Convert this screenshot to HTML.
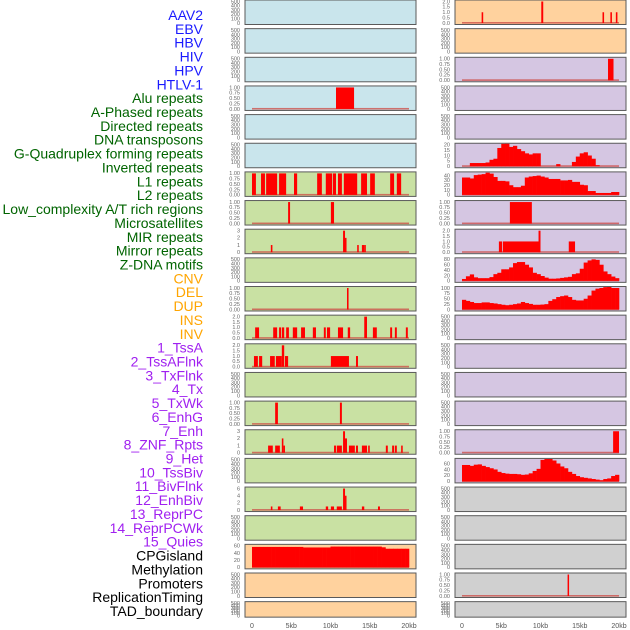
<!DOCTYPE html>
<html><head><meta charset="utf-8"><style>
html,body{margin:0;padding:0;background:#fff;}
svg{display:block;font-family:"Liberation Sans",sans-serif;}
</style></head><body>
<svg id="chart" width="630" height="630" viewBox="0 0 630 630" xmlns="http://www.w3.org/2000/svg"></svg>
<script>
const trackLabels = ["AAV2","EBV","HBV","HIV","HPV","HTLV-1","Alu repeats","A-Phased repeats","Directed repeats","DNA transposons","G-Quadruplex forming repeats","Inverted repeats","L1 repeats","L2 repeats","Low_complexity A/T rich regions","Microsatellites","MIR repeats","Mirror repeats","Z-DNA motifs","CNV","DEL","DUP","INS","INV","1_TssA","2_TssAFlnk","3_TxFlnk","4_Tx","5_TxWk","6_EnhG","7_Enh","8_ZNF_Rpts","9_Het","10_TssBiv","11_BivFlnk","12_EnhBiv","13_ReprPC","14_ReprPCWk","15_Quies","CPGisland","Methylation","Promoters","ReplicationTiming","TAD_boundary"];
const xTickValues = [0,5,10,15,20];
const xTickLabels = ["0","5kb","10kb","15kb","20kb"];
const ticksEmpty = ["0","100","200","300","400","500"];
const ticksFrac = ["0.00","0.25","0.50","0.75","1.00"];
const ticksTwo = ["0.0","0.5","1.0","1.5","2.0"];
const ticksThree = ["0","1","2","3"];
const ticksSix = ["0","2","4","6"];
const ticksSixty = ["0","20","40","60"];
const ticksTwenty = ["0","5","10","15","20"];
const ticksForty = ["0","10","20","30","40"];
const ticksEighty = ["0","20","40","60","80"];
const ticksHundred = ["0","25","50","75","100"];

// bar data: [startKb, endKb, value]
const hivBars = [[10.7,13.0,1]];
const aluBars = [[0,0.5,1],[1.15,1.65,1],[1.8,3.2,1],[3.45,4.35,1],[5.35,5.75,1],[8.3,8.9,1],[9.4,10.2,1],[10.3,10.7,1],[10.95,11.45,1],[11.7,13.4,1],[13.9,14.65,1],[15.05,15.65,1],[17.6,18.1,1],[18.45,19.0,1]];
const aPhasedBars = [[4.6,4.85,1],[10.05,10.45,1]];
const directedBars = [[2.4,2.6,1],[11.6,11.85,3],[11.85,12.0,2],[13.4,13.6,1],[14.0,14.3,1],[14.3,14.5,1]];
const gQuadBars = [[12.1,12.3,1]];
const invertedBars = [[0.4,0.9,1],[2.7,3.2,1],[3.45,3.7,1],[3.8,4.1,1],[4.35,4.7,1],[5.2,5.75,1],[6.25,6.75,1],[7.75,8.15,1],[9.15,9.4,1],[9.55,9.95,1],[10.95,11.6,1],[12.2,12.5,1],[14.3,14.65,2],[15.4,15.9,1],[17.6,17.85,1],[18.2,18.45,1],[19.6,19.85,1]];
const l1Bars = [[0.25,0.75,1],[0.9,1.3,1],[2.3,2.9,1],[3.05,3.8,1],[3.8,4.1,2],[4.2,4.6,1],[10.05,12.35,1],[13.25,13.5,1]];
const lowComplexityBars = [[2.95,3.3,1],[11.2,11.45,1]];
const microsatBars = [[2.05,2.65,1],[2.95,3.55,1],[3.8,4.0,2],[4.0,4.2,1],[10.45,10.7,1],[10.8,11.45,1],[11.6,11.85,3],[11.85,12.1,2],[12.35,13.1,1],[13.25,13.5,1],[14.0,14.65,1],[14.8,15.0,1],[17.05,17.3,1],[17.85,18.1,1],[18.2,18.45,1],[19.0,19.2,1]];
const mirrorBars = [[2.4,2.6,1],[3.3,3.65,1],[6.1,6.5,1],[9.4,9.7,1],[10.05,10.45,1],[10.8,11.45,1],[11.6,11.85,6],[11.85,12.0,4],[14.0,14.3,1],[16.05,16.3,1]];
const insBars = [[2.5,2.7,1],[10.1,10.35,2],[17.9,18.1,1],[18.9,19.1,1],[19.6,19.8,1]];
const tssABars = [[18.6,19.3,1]];
const enhGBars = [[6.1,8.9,1]];
const enhBars = [[4.7,5.1,1],[5.2,9.9,1],[9.75,10.0,2],[13.6,14.4,1]];
const reprPCWkBars = [[19.25,20,1]];
const replicationBars = [[13.45,13.6,1]];

// profile data: values in 0.5kb bins from 0 to 20kb
const cnvProfile = [57,57,57,57,57,57,57,57,57,57,57,57,57,55.5,55.5,55.5,55.5,55.5,55.5,55.5,58,58,58,58,58,58,58,58,58,58,58,58,58,56,52,52,52,52,52,52];
const txProfile = [0,0,3,3,3,3,3.5,6,7,17,21,22,18,19,16,14,12,11,12,12,0,0,0,0,2,0,0,0,4,9,12,13,10,7,1,0,0,0,0,0];
const txWkProfile = [36,36,34,41,42,43,46,44,37,29,29,28,20,16,16,19,36,38,39,40,38,36,33,33,33,30,30,31,27,27,21,20,8,8,4,4,4,4,6,6];
const znfProfile = [7,17,24,13,10,10,10,14,25,30,43,43,50,66,70,70,60,50,30,25,18,12,8,8,9,11,13,15,25,28,45,68,76,80,78,60,35,25,16,10];
const hetProfile = [45,40,35,30,30,33,33,30,28,25,22,20,22,25,28,35,30,26,22,22,23,25,40,48,58,62,65,58,45,42,42,50,65,88,97,100,104,106,100,100];
const quiesProfile = [55,55,52,56,57,52,48,44,40,32,28,26,25,25,24,22,23,27,35,42,72,75,75,70,60,50,44,32,25,18,14,12,10,8,6,4,8,10,18,22];

const C_BLUE="#c9e5ec", C_GREEN="#c9e1a3", C_ORANGE="#ffd29e", C_LAV="#d5c6e2", C_GRAY="#d0d0d0";
const panels = [
 {c:0,r:0,f:C_BLUE,t:ticksEmpty,d:500},{c:0,r:1,f:C_BLUE,t:ticksEmpty,d:500},{c:0,r:2,f:C_BLUE,t:ticksEmpty,d:500},
 {c:0,r:3,f:C_BLUE,t:ticksFrac,d:1,bars:hivBars},{c:0,r:4,f:C_BLUE,t:ticksEmpty,d:500},{c:0,r:5,f:C_BLUE,t:ticksEmpty,d:500},
 {c:0,r:6,f:C_GREEN,t:ticksFrac,d:1,bars:aluBars},{c:0,r:7,f:C_GREEN,t:ticksFrac,d:1,bars:aPhasedBars},
 {c:0,r:8,f:C_GREEN,t:ticksThree,d:3,bars:directedBars},{c:0,r:9,f:C_GREEN,t:ticksEmpty,d:500},
 {c:0,r:10,f:C_GREEN,t:ticksFrac,d:1,bars:gQuadBars},{c:0,r:11,f:C_GREEN,t:ticksTwo,d:2,bars:invertedBars},
 {c:0,r:12,f:C_GREEN,t:ticksTwo,d:2,bars:l1Bars},{c:0,r:13,f:C_GREEN,t:ticksEmpty,d:500},
 {c:0,r:14,f:C_GREEN,t:ticksFrac,d:1,bars:lowComplexityBars},{c:0,r:15,f:C_GREEN,t:ticksThree,d:3,bars:microsatBars},
 {c:0,r:16,f:C_GREEN,t:ticksEmpty,d:500},{c:0,r:17,f:C_GREEN,t:ticksSix,d:6,bars:mirrorBars},
 {c:0,r:18,f:C_GREEN,t:ticksEmpty,d:500},{c:0,r:19,f:C_ORANGE,t:ticksSixty,d:60,prof:cnvProfile},
 {c:0,r:20,f:C_ORANGE,t:ticksEmpty,d:500},{c:0,r:21,f:C_ORANGE,t:ticksEmpty,d:500},
 {c:1,r:0,f:C_ORANGE,t:ticksTwo,d:2,bars:insBars},{c:1,r:1,f:C_ORANGE,t:ticksEmpty,d:500},
 {c:1,r:2,f:C_LAV,t:ticksFrac,d:1,bars:tssABars},{c:1,r:3,f:C_LAV,t:ticksEmpty,d:500},{c:1,r:4,f:C_LAV,t:ticksEmpty,d:500},
 {c:1,r:5,f:C_LAV,t:ticksTwenty,d:20,prof:txProfile},{c:1,r:6,f:C_LAV,t:ticksForty,d:44.5,prof:txWkProfile},
 {c:1,r:7,f:C_LAV,t:ticksFrac,d:1,bars:enhGBars},{c:1,r:8,f:C_LAV,t:ticksTwo,d:2,bars:enhBars},
 {c:1,r:9,f:C_LAV,t:ticksEighty,d:80,prof:znfProfile},{c:1,r:10,f:C_LAV,t:ticksHundred,d:100,prof:hetProfile},
 {c:1,r:11,f:C_LAV,t:ticksEmpty,d:500},{c:1,r:12,f:C_LAV,t:ticksEmpty,d:500},{c:1,r:13,f:C_LAV,t:ticksEmpty,d:500},
 {c:1,r:14,f:C_LAV,t:ticksEmpty,d:500},{c:1,r:15,f:C_LAV,t:ticksFrac,d:1,bars:reprPCWkBars},
 {c:1,r:16,f:C_LAV,t:ticksSixty,d:72,prof:quiesProfile},{c:1,r:17,f:C_GRAY,t:ticksEmpty,d:500},
 {c:1,r:18,f:C_GRAY,t:ticksEmpty,d:500},{c:1,r:19,f:C_GRAY,t:ticksEmpty,d:500},
 {c:1,r:20,f:C_GRAY,t:ticksFrac,d:1,bars:replicationBars},{c:1,r:21,f:C_GRAY,t:ticksEmpty,d:500}
];
const labelColor = i => i<6?"#1a1aff":i<19?"#006400":i<24?"#ffa500":i<39?"#a020f0":"#000";

const svg = document.getElementById('chart');
const NS = "http://www.w3.org/2000/svg";
function mk(tag, attrs, parent){const e=document.createElementNS(NS,tag);for(const k in attrs)e.setAttribute(k,attrs[k]);(parent||svg).appendChild(e);return e;}

trackLabels.forEach((s,i)=>{
  const t=mk('text',{x:203,y:(15+i*13.86+5).toFixed(1),'text-anchor':'end','font-size':'14',fill:labelColor(i)});
  
  
  t.textContent=s;
});

const colX=[245,455], panelW=171, pitch=28.65;
function xScale(c,kb){return colX[c]+7+kb*7.85;}

panels.forEach(p=>{
  const top=p.r*pitch, h=p.r===21?15.5:24.5;
  const y0=top+h-1.5, yTop=top+1.5;
  const yS=v=>y0-(v/p.d)*(y0-yTop);
  const g=mk('g',{});
  
  
  const bg=mk('rect',{x:colX[p.c],y:top.toFixed(2),width:panelW,height:h,fill:p.f,stroke:'#5a5a5a','stroke-width':1},g);
  
  
  const cp=mk('clipPath',{id:'cp'+p.c+'_'+p.r},g);
  mk('rect',{x:colX[p.c]+0.5,y:top+0.5,width:panelW-1,height:h-1},cp);
  const dg=mk('g',{'clip-path':'url(#cp'+p.c+'_'+p.r+')'},g);
  if(p.bars||p.prof){
    const bl=mk('rect',{x:xScale(p.c,0),y:(y0-1).toFixed(2),width:(xScale(p.c,20)-xScale(p.c,0)).toFixed(2),height:1.6,fill:'#cc4a44',opacity:0.75},dg);
    
    
  }
  if(p.bars){
    p.bars.forEach(b=>{
      const x1=xScale(p.c,b[0]), x2=xScale(p.c,b[1]);
      const r=mk('rect',{x:x1.toFixed(2),y:yS(b[2]).toFixed(2),width:Math.max(1.5,x2-x1).toFixed(2),height:(y0-yS(b[2])).toFixed(2),fill:'#ff0000'},dg);
      
      
    });
  }
  if(p.prof){
    p.prof.forEach((v,i)=>{
      if(v<=0)return;
      const x1=xScale(p.c,i*0.5), x2=xScale(p.c,(i+1)*0.5);
      const r=mk('rect',{x:x1.toFixed(2),y:yS(v).toFixed(2),width:(x2-x1+0.3).toFixed(2),height:(y0-yS(v)).toFixed(2),fill:'#ff0000'},dg);
      
      
    });
  }
  p.t.forEach(lbl=>{
    const v=parseFloat(lbl);
    const t=mk('text',{x:colX[p.c]-5,y:(yS(v)+1.8).toFixed(2),'text-anchor':'end','font-size':'5.5',fill:'#666'},g);
    
    
    t.textContent=lbl;
  });
});

[0,1].forEach(c=>{
  xTickValues.forEach((v,i)=>{
    const t=mk('text',{x:xScale(c,v).toFixed(2),y:628,'text-anchor':'middle','font-size':'7',fill:'#555'});
    
    
    t.textContent=xTickLabels[i];
  });
});
</script>
</body></html>
